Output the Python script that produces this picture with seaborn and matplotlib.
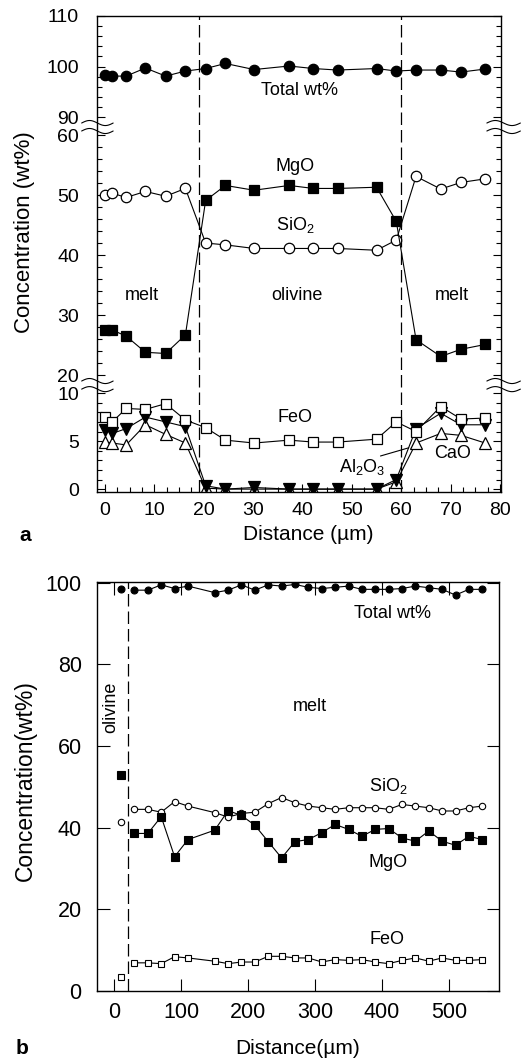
import numpy as np
import matplotlib
matplotlib.use("Agg")
import matplotlib.pyplot as plt
from matplotlib.ticker import FixedLocator
import seaborn as sns

# ---------------- (a) traverse across the olivine crystal ----------------
dist_a = [0, 1.5, 4.3, 8.2, 12.3, 16.3, 20.4, 24.4, 30.2, 37.3, 42.2, 47.1,
          55.0, 59.0, 63.0, 68.0, 72.1, 77.0]
total_a = [98.4, 98.1, 98.1, 99.7, 98.1, 99.1, 99.6, 100.6, 99.4, 100.1, 99.6,
           99.3, 99.6, 99.1, 99.3, 99.3, 98.9, 99.5]
mgo_a = [27.5, 27.5, 26.5, 23.8, 23.6, 26.7, 49.1, 51.6, 50.8, 51.6, 51.1,
         51.1, 51.3, 45.6, 25.9, 23.1, 24.3, 25.1]
sio2_a = [50.0, 50.3, 49.6, 50.6, 49.8, 51.1, 42.0, 41.7, 41.1, 41.1, 41.1,
          41.1, 40.8, 42.5, 53.1, 51.0, 52.1, 52.7]
feo_a = [7.5, 7.0, 8.4, 8.3, 8.9, 7.2, 6.4, 5.1, 4.8, 5.1, 4.9, 4.9, 5.2,
         7.0, 6.0, 8.6, 7.3, 7.4]
al2o3_a = [6.2, 5.8, 6.3, 7.5, 7.0, 6.5, 0.35, 0.0, 0.17, 0.0, 0.0, 0.0, 0.0,
           1.0, 6.3, 7.9, 6.7, 6.7]
cao_a = [4.9, 4.8, 4.6, 6.7, 5.7, 4.8, 0.1, 0.0, 0.0, 0.0, 0.0, 0.0, 0.0,
         0.76, 4.8, 5.8, 5.6, 4.8]
boundaries_a = [19, 60]
yticks_a = [0, 5, 10, 20, 30, 40, 50, 60, 90, 100, 110]

# ---------------- (b) traverse into the melt ----------------
olivine_dist_b = [10]
olivine_total_b = [98.6]
olivine_mgo_b = [52.9]
olivine_sio2_b = [41.4]
olivine_feo_b = [3.5]
dist_b = [30, 50, 70, 90, 110, 150, 170, 190, 210, 230, 250, 270, 290, 310,
          330, 350, 370, 390, 410, 430, 450, 470, 490, 510, 530, 550]
total_b = [98.2, 98.2, 99.5, 98.6, 99.2, 97.6, 98.2, 99.5, 98.2, 99.5, 99.2,
           99.6, 98.9, 98.6, 98.9, 99.2, 98.4, 98.4, 98.4, 98.6, 99.2, 98.8,
           98.4, 97.0, 98.4, 98.4]
mgo_b = [38.6, 38.6, 42.7, 32.9, 37.1, 39.4, 44.2, 43.0, 40.6, 36.6, 32.6,
         36.6, 37.1, 38.8, 40.8, 39.6, 37.9, 39.6, 39.8, 37.5, 36.7, 39.2,
         36.7, 35.7, 37.9, 37.1]
sio2_b = [44.5, 44.5, 43.8, 46.4, 45.3, 43.7, 42.6, 43.5, 43.8, 45.9, 47.4,
          46.1, 45.3, 44.9, 44.5, 44.9, 44.9, 44.9, 44.5, 45.7, 45.3, 44.9,
          44.1, 44.1, 44.9, 45.3]
feo_b = [6.9, 6.9, 6.7, 8.4, 8.1, 7.3, 6.7, 7.1, 7.1, 8.5, 8.5, 8.1, 8.1,
         7.1, 7.7, 7.5, 7.7, 7.1, 6.7, 7.5, 8.1, 7.3, 8.1, 7.5, 7.5, 7.7]
boundary_b = 20

sns.set_theme(style="ticks")
plt.rcParams.update({
    "font.family": ["Liberation Sans", "DejaVu Sans"],
    "mathtext.fontset": "custom",
    "mathtext.rm": "Liberation Sans",
    "mathtext.it": "Liberation Sans:italic",
    "mathtext.default": "rm",
    "axes.linewidth": 1.0,
    "axes.edgecolor": "black",
    "axes.labelcolor": "black",
    "text.color": "black",
    "xtick.color": "black",
    "ytick.color": "black",
})

W, H = 528, 1060
fig = plt.figure(figsize=(W / 100, H / 100), dpi=100)
ax_a = fig.add_axes([97 / W, 1 - 492 / H, 404 / W, 476 / H])
ax_b = fig.add_axes([97 / W, 1 - 991 / H, 402 / W, 409 / H])


def trace(ax, x, y, marker, filled, ms, mew=0.9):
    sns.lineplot(x=x, y=y, ax=ax, color="black", linewidth=0.8,
                 marker=marker, markersize=ms,
                 markerfacecolor="black" if filled else "white",
                 markeredgecolor="black", markeredgewidth=mew,
                 estimator=None, sort=False, legend=False)


# ---- broken concentration axis for panel a (piecewise linear scale) ----
seg_v = np.array([-5.0, 0.0, 10.0, 20.0, 60.0, 90.0, 110.0, 130.0])
seg_t = np.array([-48.0, 0.0, 96.0, 114.0, 354.0, 372.0, 473.0, 574.0])


def fwd(v):
    return np.interp(v, seg_v, seg_t)


def inv(t):
    return np.interp(t, seg_t, seg_v)


ax_a.set_yscale("function", functions=(fwd, inv))
ax_a.set_xlim(-1.6, 80.2)
ax_a.set_ylim(-0.3, 110)

dash = (0, (10, 4))
for xb in boundaries_a:
    ax_a.axvline(xb, color="black", lw=0.9, ls=dash, zorder=0.5)

trace(ax_a, dist_a, cao_a, "^", False, 8)
trace(ax_a, dist_a, al2o3_a, "v", True, 8)
trace(ax_a, dist_a, feo_a, "s", False, 7.5)
trace(ax_a, dist_a, sio2_a, "o", False, 7.5)
trace(ax_a, dist_a, mgo_a, "s", True, 7.5)
trace(ax_a, dist_a, total_a, "o", True, 7.5)

ax_a.set_xticks(range(0, 81, 10))
ax_a.xaxis.set_minor_locator(FixedLocator(np.arange(0, 80.1, 2.5)))
ax_a.set_yticks(yticks_a)
ax_a.set_yticklabels([str(t) for t in yticks_a])
ax_a.yaxis.set_minor_locator(FixedLocator(
    list(range(0, 11)) + list(range(20, 61, 2)) + list(range(90, 111, 2))))
ax_a.tick_params(which="both", direction="in", top=False, right=True,
                 width=0.8, labelsize=14)
ax_a.tick_params(which="major", length=6)
ax_a.tick_params(which="minor", length=3.5)
ax_a.tick_params(axis="y", pad=13)
ax_a.tick_params(axis="x", pad=7)


# axis-break marks
def squiggle(ax, x0, x1, yc, amp):
    xs = np.linspace(x0, x1, 80)
    ys = yc + amp * np.sin(2 * np.pi * (xs - x0) / (x1 - x0))
    ax.plot(xs, ys, transform=ax.get_yaxis_transform(), color="black",
            lw=0.8, clip_on=False)


for x0, x1 in [(-0.038, 0.04), (0.965, 1.048)]:
    for yc in (80.0, 66.7):
        squiggle(ax_a, x0, x1, yc, 4.2)
    for yc in (16.7, 12.2):
        squiggle(ax_a, x0, x1, yc, 1.4)

lab = dict(ha="center", va="center", fontsize=13)
ax_a.text(39.5, 95.3, "Total wt%", **lab)
ax_a.text(38.5, 54.7, "MgO", **lab)
ax_a.text(38.5, 45.0, "SiO$_2$", **lab)
ax_a.text(7.5, 33.3, "melt", **lab)
ax_a.text(38.9, 33.3, "olivine", **lab)
ax_a.text(70.2, 33.3, "melt", **lab)
ax_a.text(38.5, 7.5, "FeO", **lab)
ax_a.text(52.0, 2.3, "Al$_2$O$_3$", **lab)
ax_a.text(70.4, 3.75, "CaO", **lab)
ax_a.plot([55.8, 61.5], [3.45, 4.3], color="black", lw=0.8)

ax_a.set_xlabel("Distance (µm)", fontsize=15)
ax_a.xaxis.set_label_coords(0.522, (492 - 535) / 476)
ax_a.xaxis.label.set_va("center")
ax_a.set_ylabel("Concentration (wt%)", fontsize=16)
ax_a.yaxis.set_label_coords((25 - 97) / 404, (492 - 232) / 476)
ax_a.yaxis.label.set_va("center")

# ---------------- panel b ----------------
ax_b.set_xlim(-26, 575)
ax_b.set_ylim(0, 100.2)
ax_b.axvline(boundary_b, color="black", lw=0.9, ls=dash, zorder=0.5)

trace(ax_b, dist_b, feo_b, "s", False, 4.6, 0.8)
trace(ax_b, dist_b, sio2_b, "o", False, 4.6, 0.8)
trace(ax_b, dist_b, mgo_b, "s", True, 5.2, 0.8)
trace(ax_b, dist_b, total_b, "o", True, 5.0, 0.8)
trace(ax_b, olivine_dist_b, olivine_feo_b, "s", False, 4.6, 0.8)
trace(ax_b, olivine_dist_b, olivine_sio2_b, "o", False, 4.6, 0.8)
trace(ax_b, olivine_dist_b, olivine_mgo_b, "s", True, 5.2, 0.8)
trace(ax_b, olivine_dist_b, olivine_total_b, "o", True, 5.0, 0.8)

ax_b.set_xticks(range(0, 501, 100))
ax_b.set_yticks(range(0, 101, 20))
ax_b.tick_params(which="major", direction="in", top=True, right=True,
                 length=9, width=0.8, labelsize=15.5)
ax_b.tick_params(axis="y", pad=11)
ax_b.tick_params(axis="x", pad=8)

ax_b.text(416, 92.6, "Total wt%", **lab)
ax_b.text(292, 69.6, "melt", **lab)
ax_b.text(-6, 69.6, "olivine", rotation=90, **lab)
ax_b.text(409, 50.3, "SiO$_2$", **lab)
ax_b.text(409, 31.6, "MgO", **lab)
ax_b.text(407, 12.5, "FeO", **lab)

ax_b.set_xlabel("Distance(µm)", fontsize=15)
ax_b.xaxis.set_label_coords(0.499, (991 - 1048) / 409)
ax_b.xaxis.label.set_va("center")
ax_b.set_ylabel("Concentration(wt%)", fontsize=16.5)
ax_b.yaxis.set_label_coords((25 - 97) / 402, (991 - 781) / 409)
ax_b.yaxis.label.set_va("center")

fig.text(25 / W, 1 - 535 / H, "a", fontweight="bold", fontsize=15,
         ha="center", va="center")
fig.text(22 / W, 1 - 1048 / H, "b", fontweight="bold", fontsize=15,
         ha="center", va="center")

fig.savefig("out.png", dpi=100)
